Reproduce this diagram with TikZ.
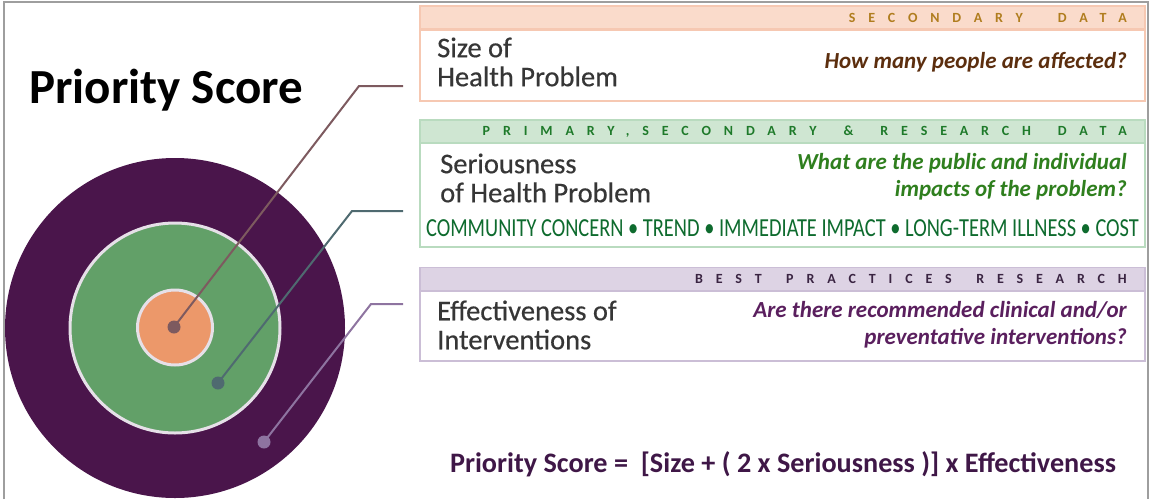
\documentclass[tikz,border=0pt]{standalone}
\usepackage{fontspec}
\usepackage{graphicx}
\setmainfont{Carlito}
\newfontfamily\tagwide[LetterSpace=92]{Carlito}
\newfontfamily\headfont[FakeBold=0.5]{Carlito}

\definecolor{framegrey}{HTML}{9E9E9E}
\definecolor{outerpurple}{HTML}{4A154B}
\definecolor{midgreen}{HTML}{62A068}
\definecolor{innerorange}{HTML}{EC986A}
\definecolor{ringedge}{HTML}{E6E0E8}
\definecolor{leadsize}{HTML}{7D5A5F}
\definecolor{leadser}{HTML}{4F6A70}
\definecolor{leadeff}{HTML}{8E74A0}
\definecolor{headgrey}{HTML}{363636}
\definecolor{sizeband}{HTML}{FADBCB}
\definecolor{sizeedge}{HTML}{F6C8B2}
\definecolor{sizetag}{HTML}{B07D1E}
\definecolor{sizeq}{HTML}{5C2E0E}
\definecolor{serband}{HTML}{CFE6D2}
\definecolor{seredge}{HTML}{B9DBBF}
\definecolor{sertag}{HTML}{1E7A2A}
\definecolor{serq}{HTML}{2F7F1E}
\definecolor{sercrit}{HTML}{0E6B2E}
\definecolor{effband}{HTML}{DDD3E4}
\definecolor{effedge}{HTML}{CBBED6}
\definecolor{efftag}{HTML}{3A2442}
\definecolor{effq}{HTML}{5A1F5E}
\definecolor{formulapurple}{HTML}{3F1747}

\begin{document}
\begin{tikzpicture}[x=1pt, y=-1pt]
    \tikzstyle{band} = [rectangle, minimum width=725pt, minimum height=23pt, inner sep=0pt, line width=1.5pt]
    \tikzstyle{panel} = [rectangle, fill=white, minimum width=725pt, inner sep=0pt, line width=2pt]
    \tikzstyle{ring} = [circle, inner sep=0pt, draw=ringedge, line width=3pt]
    \tikzstyle{dot} = [circle, inner sep=0pt, minimum size=13pt]
    \tikzstyle{lead} = [line width=2pt]
    \tikzstyle{heading} = [font=\headfont\fontsize{28.5}{29}\selectfont, text=headgrey, align=left, anchor=west, inner sep=0pt]
    \tikzstyle{question} = [font=\fontsize{23}{27}\selectfont\bfseries\itshape, align=right, anchor=east, inner sep=0pt]
    \tikzstyle{tag} = [font=\tagwide\fontsize{14}{14}\selectfont\bfseries, anchor=east, inner sep=0pt]

    \useasboundingbox (0,0) rectangle (1150,499);

    % Frame
    \draw [framegrey, line width=2pt] (3.5,499) -- (3.5,1.5) -- (1147.5,1.5) -- (1147.5,499);

    % Title
    \node [font=\fontsize{49}{49}\selectfont\bfseries, anchor=base west, inner sep=0pt] (title) at (29,103) {Priority Score};

    % Target
    \node [ring, fill=outerpurple, draw=none, minimum size=340pt] (outer) at (175,328) {};
    \node [ring, fill=midgreen, minimum size=210pt] (middle) at (175,328) {};
    \node [ring, fill=innerorange, minimum size=75pt] (inner) at (175,327.5) {};

    % Size of Health Problem
    \node [band, fill=sizeband, draw=sizeedge] (sizehdr) at (782.5,17.5) {};
    \node [panel, draw=sizeedge, minimum height=71pt] (sizebox) at (782.5,65) {};
    \node [tag, text=sizetag] (sizetag) at (1127,17.5) {SECONDARY\hspace{35pt}DATA};
    \node [heading] (sizename) at (437,62) {Size of\\Health Problem};
    \node [question, text=sizeq] (sizeq) at (1127,62) {How many people are affected?};

    % Seriousness of Health Problem
    \node [band, fill=serband, draw=seredge] (serhdr) at (782.5,131.5) {};
    \node [panel, draw=seredge, minimum height=104pt] (serbox) at (782.5,195) {};
    \node [tag, text=sertag] (sertag) at (1127,131.5) {PRIMARY,SECONDARY\hspace{27pt}\&\hspace{27pt}RESEARCH\hspace{27pt}DATA};
    \node [heading] (sername) at (440,178) {Seriousness\\of Health Problem};
    \node [question, text=serq] (serq) at (1127,177) {What are the public and individual\\impacts of the problem?};
    \node [font=\fontsize{26}{26}\selectfont, text=sercrit, inner sep=0pt] (sercrit) at (782.5,228) {\scalebox{0.785}[1]{COMMUNITY CONCERN \textbullet{} TREND \textbullet{} IMMEDIATE IMPACT \textbullet{} LONG-TERM ILLNESS \textbullet{} COST}};

    % Effectiveness of Interventions
    \node [band, fill=effband, draw=effedge] (effhdr) at (782.5,279) {};
    \node [panel, draw=effedge, minimum height=70pt] (effbox) at (782.5,326) {};
    \node [tag, text=efftag] (efftag) at (1127,279) {BEST\hspace{24.5pt}PRACTICES\hspace{24.5pt}RESEARCH};
    \node [heading] (effname) at (437,325) {Effectiveness of\\Interventions};
    \node [question, text=effq] (effq) at (1127,325) {Are there recommended clinical and/or\\preventative interventions?};

    % Leader lines
    \node [dot, fill=leadsize] (sizedot) at (174,327) {};
    \node [dot, fill=leadser] (serdot) at (218,383) {};
    \node [dot, fill=leadeff] (effdot) at (264,442) {};
    \coordinate (sizebend) at (359,86);
    \coordinate (serbend) at (352,211);
    \coordinate (effbend) at (371,304);
    \coordinate (sizeend) at (403,86);
    \coordinate (serend) at (403,211);
    \coordinate (effend) at (403,304);
    \draw [lead, leadsize] (sizedot.center) -- (sizebend) -- (sizeend);
    \draw [lead, leadser] (serdot.center) -- (serbend) -- (serend);
    \draw [lead, leadeff] (effdot.center) -- (effbend) -- (effend);

    % Formula
    \node [font=\fontsize{28.2}{28.2}\selectfont\bfseries, text=formulapurple, anchor=base, inner sep=0pt] (formula) at (783,472) {Priority Score =~ [Size + ( 2 x Seriousness )] x Effectiveness};
\end{tikzpicture}
\end{document}
